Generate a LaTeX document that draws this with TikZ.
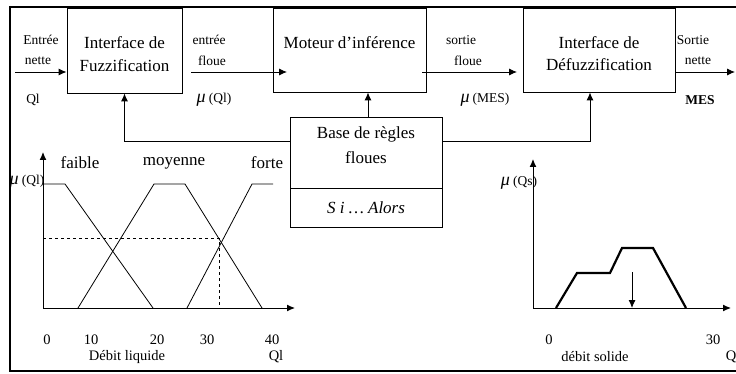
\documentclass[tikz,border=0pt]{standalone}
\usepackage{fontspec}
\setmainfont{Liberation Serif}
\usetikzlibrary{arrows.meta}
\begin{document}
\begin{tikzpicture}[x=1pt,y=-1pt,
  box/.style={draw, line width=0.9pt, inner sep=0pt},
  btxt/.style={font=\fontsize{17}{19}\selectfont, inner sep=0pt},
  lbl/.style={font=\fontsize{13.5}{15}\selectfont, inner sep=0pt},
  glbl/.style={font=\fontsize{17}{19}\selectfont, inner sep=0pt},
  tick/.style={font=\fontsize{14.5}{16}\selectfont, inner sep=0pt},
  arr/.style={line width=0.9pt, -{Latex[length=8pt,width=7pt]}},
  mf/.style={line width=0.8pt},
  ax/.style={line width=1pt, -{Latex[length=8pt,width=7pt]}}]
\useasboundingbox (0,0) rectangle (736,374);
% frame
\draw[line width=2pt] (736,7) -- (10,7);
\draw[line width=1.2pt] (10,6) -- (10,372);
\draw[line width=1.6pt] (10,371) -- (736,371);
% boxes
\node[box, minimum width=115pt, minimum height=85pt] (fuzz) at (124.5,50.5) {};
\node[box, minimum width=153pt, minimum height=84pt] (mot) at (349.5,50) {};
\node[box, minimum width=152pt, minimum height=84pt] (defuzz) at (599,50) {};
\node[box, minimum width=152pt, minimum height=71pt] (base) at (366,152.5) {};
\node[box, minimum width=152pt, minimum height=39pt] (alors) at (366,207.5) {};
% box texts
\node[btxt] (t1) at (124.5,43) {Interface de};
\node[btxt] (t2) at (124.5,66) {Fuzzification};
\node[btxt] (t3) at (349.5,43) {Moteur d’inférence};
\node[btxt] (t4) at (599,43) {Interface de};
\node[btxt] (t5) at (599,65) {Défuzzification};
\node[btxt] (t6) at (366,134) {Base de règles};
\node[btxt] (t7) at (366,158) {floues};
\node[btxt] (t8) at (366,208) {\itshape S i … Alors};
% connector points
\coordinate (in0) at (15,72);
\coordinate (a1) at (191,72);
\coordinate (a2) at (287,72);
\coordinate (b1) at (422,72);
\coordinate (b2) at (517,72);
\coordinate (out1) at (735,72);
\draw[arr] (in0) -- (in0 -| fuzz.west);
\draw[arr] (a1) -- (a2);
\draw[arr] (b1) -- (b2);
\draw[arr] (defuzz.east |- out1) -- (out1);
\draw[arr] (base.north -| 368,0) -- (mot.south -| 368,0);
\coordinate (bl) at (290,141);
\coordinate (br) at (442,141);
\draw[arr] (bl) -| (fuzz.south);
\draw[arr] (br) -| (defuzz.south -| 590,0);
% top labels
\node[lbl] (l1) at (41,40) {Entrée};
\node[lbl] (l2) at (38,61) {nette};
\node[lbl] (l3) at (33,100) {Ql};
\node[lbl] (l4) at (209,40) {entrée};
\node[lbl] (l5) at (212,61) {floue};
\node[lbl] (l6) at (214,100) {\fontsize{18}{18}\selectfont\itshape μ\,\fontsize{13.5}{15}\upshape\selectfont(Ql)};
\node[lbl] (l7) at (461,40) {sortie};
\node[lbl] (l8) at (468,61) {floue};
\node[lbl] (l9) at (485,100) {\fontsize{18}{18}\selectfont\itshape μ\,\fontsize{13.5}{15}\upshape\selectfont(MES)};
\node[lbl] (l10) at (693,40) {Sortie};
\node[lbl] (l11) at (698,61) {nette};
\node[lbl] (l12) at (700,100) {\bfseries MES};
% left graph
\coordinate (o1) at (43,308);
\draw[ax] (o1) -- (43,152);
\draw[ax] (o1) -- (295,308);
\draw[mf] (43,184) -- (65,184) -- (153,308);
\draw[mf] (78,308) -- (154,184) -- (185,184) -- (262,308);
\draw[mf] (187,308) -- (252,184) -- (273,184);
\draw[mf, dashed] (43,238) -- (219,238) -- (219,308);
\node[glbl] (g1) at (80,163) {faible};
\node[glbl] (g2) at (174,163) {moyenne};
\node[glbl] (g3) at (267,163) {forte};
\node[lbl] (g4) at (27,182) {\fontsize{18}{18}\selectfont\itshape μ\,\fontsize{13.5}{15}\upshape\selectfont(Ql)};
\node[tick] (k0) at (47,340) {0};
\node[tick] (k1) at (91,340) {10};
\node[tick] (k2) at (157,340) {20};
\node[tick] (k3) at (207,340) {30};
\node[tick] (k4) at (272,340) {40};
\node[tick] (k5) at (127,357) {Débit liquide};
\node[tick] (k6) at (276,357) {Ql};
% right graph
\coordinate (o2) at (533,308);
\draw[ax] (o2) -- (533,159);
\draw[ax] (o2) -- (731,308);
\draw[line width=2.2pt, line join=miter] (556,308) -- (577,273) -- (610,273) -- (622,248) -- (653,248) -- (686,308);
\coordinate (d1) at (632,272);
\draw[arr] (d1) -- (d1 |- o2);
\node[lbl] (r1) at (519,183) {\fontsize{18}{18}\selectfont\itshape μ\,\fontsize{13.5}{15}\upshape\selectfont(Qs)};
\node[tick] (r2) at (549,340) {0};
\node[tick] (r3) at (713,340) {30};
\node[tick] (r4) at (595,357) {débit solide};
\node[tick] (r5) at (731,357) {Q};
\end{tikzpicture}
\end{document}
